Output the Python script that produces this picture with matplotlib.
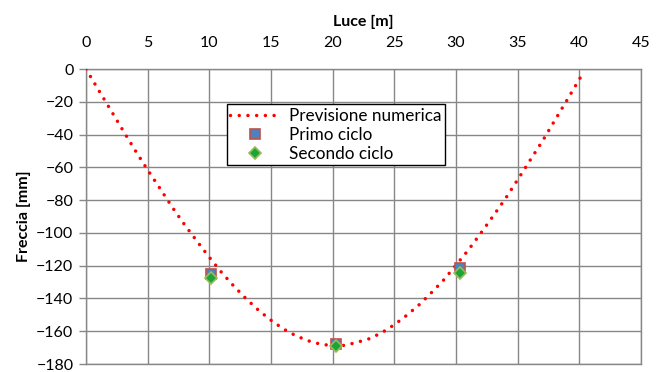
import matplotlib
matplotlib.use("Agg")
import matplotlib.pyplot as plt
from matplotlib.lines import Line2D

plt.rcParams['font.family'] = ['Lato', 'DejaVu Sans']

# Numerical prediction curve
luce_num = [0, 1, 2, 3, 4, 5, 6, 7, 8, 9, 10, 11, 12, 13, 14, 15, 16, 17, 18, 19,
            20, 20.3, 21, 22, 23, 24, 25, 26, 27, 28, 29, 30, 31, 32, 33, 34, 35,
            36, 37, 38, 39, 40, 40.3]
freccia_num = [0, -12.6, -25.0, -37.5, -49.8, -61.6, -72.9, -84.4, -95.1, -105.1,
               -114.9, -124.2, -132.6, -140.3, -147.3, -153.3, -158.6, -162.7,
               -165.8, -167.9, -168.8, -169.0, -168.6, -166.7, -164.5, -160.8,
               -156.0, -150.3, -143.9, -136.5, -128.7, -119.6, -110.4, -100.2,
               -89.8, -79.1, -67.5, -55.7, -44.0, -31.4, -18.9, -6.2, -2.5]

# Measured points
luce_mis = [10.1, 20.25, 30.35]
primo_ciclo = [-125.0, -167.5, -121.5]
secondo_ciclo = [-127.5, -169.0, -124.5]

xticks = list(range(0, 50, 5))
yticks = list(range(-180, 1, 20))

fig = plt.figure(figsize=(6.64, 3.72), dpi=100)
ax = fig.add_axes([0.1295, 0.0215, 0.836, 0.793])

grid_c = '#878787'
ax.plot(luce_num, freccia_num, color='#FF0000', linewidth=2.5,
        linestyle=(0, (0.01, 2.5)), dash_capstyle='round', zorder=3)
ax.plot(luce_mis, primo_ciclo, linestyle='none', marker='s', markersize=7,
        markerfacecolor='#4F81BD', markeredgecolor='#C0504D', markeredgewidth=1.2, zorder=4)
ax.plot(luce_mis, secondo_ciclo, linestyle='none', marker='D', markersize=6,
        markerfacecolor='#19A53A', markeredgecolor='#9BBB59', markeredgewidth=1.2, zorder=5)

ax.set_xlim(0, 45)
ax.set_ylim(-180, 0)
ax.set_xticks(xticks)
ax.set_yticks(yticks)
ax.xaxis.tick_top()
ax.xaxis.set_label_position('top')
ax.grid(True, color=grid_c, linewidth=1.0)
ax.set_axisbelow(True)
for s in ax.spines.values():
    s.set_color(grid_c)
    s.set_linewidth(1.0)

ax.tick_params(axis='x', length=0, pad=14, labelsize=11.5)
ax.tick_params(axis='y', length=5, width=1, color=grid_c, pad=4, labelsize=11.5)

ax.set_xlabel('Luce [m]', fontweight='bold', fontsize=11.5, labelpad=7)
ax.set_ylabel('Freccia [mm]', fontweight='bold', fontsize=11.5, labelpad=4)

handles = [
    Line2D([], [], color='#FF0000', linewidth=2.5, linestyle=(0, (0.01, 2.5)),
           dash_capstyle='round'),
    Line2D([], [], linestyle='none', marker='s', markersize=7,
           markerfacecolor='#4F81BD', markeredgecolor='#C0504D', markeredgewidth=1.2),
    Line2D([], [], linestyle='none', marker='D', markersize=6,
           markerfacecolor='#19A53A', markeredgecolor='#9BBB59', markeredgewidth=1.2),
]
labels = ['Previsione numerica', 'Primo ciclo', 'Secondo ciclo']
leg = ax.legend(handles, labels, loc='upper left', bbox_to_anchor=(0.254, 0.881),
                borderaxespad=0, fancybox=False, framealpha=1, edgecolor='black',
                fontsize=12.3, handlelength=2.9, labelspacing=0.18, borderpad=0.2,
                handletextpad=0.55)
leg.get_frame().set_linewidth(1.0)

fig.savefig('out.png', dpi=100)
